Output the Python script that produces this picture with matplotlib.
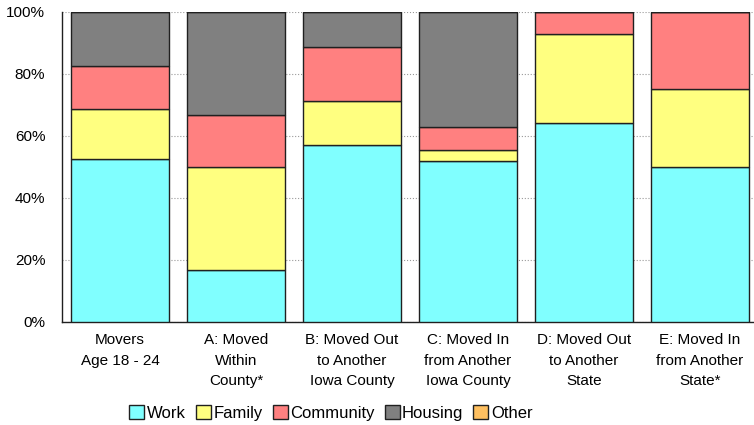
import matplotlib
matplotlib.use("Agg")
import matplotlib.pyplot as plt
from matplotlib.patches import Patch
from matplotlib.ticker import FuncFormatter

plt.rcParams['font.family'] = ['Liberation Sans Narrow', 'Liberation Sans', 'DejaVu Sans']

# ----- data -----
groups = ["Movers\nAge 18 - 24", "A: Moved\nWithin\nCounty*",
          "B: Moved Out\nto Another\nIowa County", "C: Moved In\nfrom Another\nIowa County",
          "D: Moved Out\nto Another\nState", "E: Moved In\nfrom Another\nState*"]
work      = [52.5, 16.7, 57.1, 51.8, 64.3, 50.0]
family    = [16.3, 33.3, 14.3,  3.7, 28.6, 25.0]
community = [13.7, 16.7, 17.2,  7.5,  7.1, 25.0]
housing   = [17.5, 33.3, 11.4, 37.0,  0.0,  0.0]
other     = [0.0, 0.0, 0.0, 0.0, 0.0, 0.0]

series = [("Work", work, "#80FFFF"), ("Family", family, "#FFFF80"),
          ("Community", community, "#FF8080"), ("Housing", housing, "#808080"),
          ("Other", other, "#FFC060")]

fig = plt.figure(figsize=(7.54, 4.25), dpi=100)
ax = fig.add_axes([0.0822, 0.2424, 0.923, 0.7294])

x = list(range(len(groups)))
bottom = [0.0] * len(groups)
for name, vals, col in series:
    ax.bar(x, vals, bottom=bottom, width=0.845, color=col, edgecolor="#202020",
           linewidth=1.0, zorder=3)
    bottom = [b + v for b, v in zip(bottom, vals)]

ax.set_xlim(-0.5, 5.5)
ax.set_ylim(0, 100)
ax.set_yticks([0, 20, 40, 60, 80, 100])
ax.yaxis.set_major_formatter(FuncFormatter(lambda v, p: f"{int(v)}%"))
ax.grid(axis="y", linestyle=":", color="#999999", linewidth=0.8, zorder=0)
for s in ["top", "right"]:
    ax.spines[s].set_visible(False)
for s in ["left", "bottom"]:
    ax.spines[s].set_color("#202020")
    ax.spines[s].set_linewidth(1.0)
ax.set_xticks(x)
ax.set_xticklabels(groups, fontsize=11, linespacing=1.6)
ax.tick_params(axis="x", length=0, pad=8)
ax.tick_params(axis="y", length=0, pad=12, labelsize=11)

handles = [Patch(facecolor=c, edgecolor="#202020", label=n) for n, _, c in series]
fig.legend(handles=handles, loc="center", bbox_to_anchor=(331 / 754, 12 / 425),
           ncol=5, frameon=False, fontsize=12, handlelength=0.9, handleheight=0.9,
           handletextpad=0.15, columnspacing=0.6, borderaxespad=0)

fig.savefig("out.png", dpi=100)
